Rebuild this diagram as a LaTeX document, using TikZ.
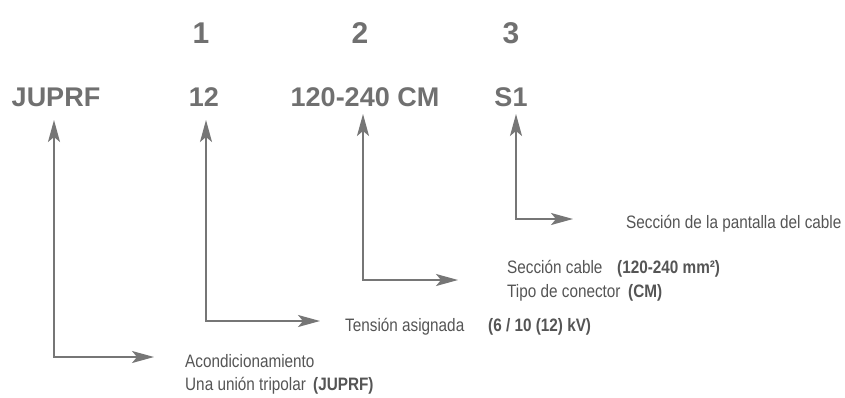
\documentclass[tikz,border=0pt]{standalone}
\usepackage{fontspec}
\setmainfont{Liberation Sans}
\newfontfamily\condf[FakeStretch=0.85]{Liberation Sans}
\usetikzlibrary{arrows.meta}
\definecolor{titlegray}{RGB}{112,112,112}
\definecolor{linegray}{RGB}{118,118,118}
\definecolor{textgray}{RGB}{85,85,85}
\begin{document}
\begin{tikzpicture}[x=1pt,y=-1pt,
  title/.style={anchor=base,text=titlegray,inner sep=0,font=\fontsize{27}{30}\selectfont\bfseries},
  num/.style={anchor=base,text=titlegray,inner sep=0,font=\fontsize{30}{34}\selectfont\bfseries},
  lbl/.style={anchor=base west,text=textgray,inner sep=0,font={\condf\fontsize{18}{21}\selectfont}},
  lblb/.style={anchor=base west,text=textgray,inner sep=0,font={\condf\bfseries\fontsize{18}{21}\selectfont}},
  arr/.style={draw=linegray,line width=1.5pt,
    {Stealth[length=22pt,width=12pt,inset=5pt]}-{Stealth[length=22pt,width=12pt,inset=5pt]}}]
\fill[white] (0,0) rectangle (845,397);
\useasboundingbox (0,0) rectangle (845,397);

% top numbers
\node[num] (n1) at (201,43) {1};
\node[num] (n2) at (360,43) {2};
\node[num] (n3) at (511,43) {3};

% code parts
\node[title] (c1) at (56,106) {JUPRF};
\node[title] (c2) at (204,106) {12};
\node[title] (c3) at (365,106) {120-240 CM};
\node[title] (c4) at (511,106) {S1};

% labels
\node[lbl] (l4) at (626,228) {Sección de la pantalla del cable};
\node[lbl] (l3a) at (507,273) {Sección cable};
\node[lblb] (l3ab) at (617,273) {(120-240 mm²)};
\node[lbl] (l3b) at (507,297) {Tipo de conector};
\node[lblb] (l3bb) at (628,297) {(CM)};
\node[lbl] (l2) at (345,331) {Tensión asignada};
\node[lblb] (l2b) at (488,331) {(6 / 10 (12) kV)};
\node[lbl] (l1a) at (185,367) {Acondicionamiento};
\node[lbl] (l1b) at (185,390) {Una unión tripolar};
\node[lblb] (l1bb) at (313,390) {(JUPRF)};

% arrow ends
\coordinate (a1top) at (54,120);
\coordinate (a1end) at (154,357);
\coordinate (a2top) at (206,120);
\coordinate (a2end) at (320,321);
\coordinate (a3top) at (363,114);
\coordinate (a3end) at (458,280);
\coordinate (a4top) at (516,114);
\coordinate (a4end) at (573,219);

\draw[arr] (a1top) |- (a1end);
\draw[arr] (a2top) |- (a2end);
\draw[arr] (a3top) |- (a3end);
\draw[arr] (a4top) |- (a4end);
\end{tikzpicture}
\end{document}
